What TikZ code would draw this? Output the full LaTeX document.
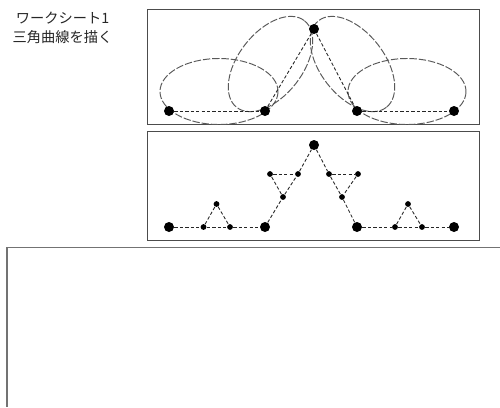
\documentclass[tikz,border=0pt]{standalone}
\usepackage{fontspec}
\setmainfont{Noto Sans CJK JP}
\usepackage{xcolor}
\usepackage{tikz}
\usetikzlibrary{positioning}

\begin{document}
\begin{tikzpicture}[
  x=0.2mm,y=-0.2mm,
  every node/.style={align=center},
  title/.style={font=\fontsize{8.1}{10.8}\selectfont,text=black!85,inner sep=0pt},
  panel/.style={rectangle,draw=black!70,line width=0.45pt,inner sep=0pt,
                minimum width=66.4mm},
  bigdot/.style={circle,fill=black,inner sep=0pt,minimum size=2mm},
  smalldot/.style={circle,fill=black,inner sep=0pt,minimum size=1.15mm},
  edge/.style={black!85,line width=0.5pt,dash pattern=on 1.9pt off 1.2pt},
  lobe/.style={black!65,line width=0.55pt,dash pattern=on 4.2pt off 1.1pt},
  sheet/.style={black!55,line width=0.85pt},
]
\clip (0,0) rectangle (500,407);

\node[title] at (62.5,27.5) (title) {ワークシート1\\三角曲線を描く};

% upper panel
\node[panel,minimum height=22.9mm] at (313,66.75) (upper) {};
\node[panel,minimum height=21.8mm] at (313,185.5) (lower) {};

\coordinate (lobeA) at (219,91.5);
\coordinate (lobeB) at (270.5,64);
\coordinate (lobeC) at (352.5,64);
\coordinate (lobeD) at (407,91.5);
\draw[lobe] (lobeA) ellipse [x radius=59,y radius=33];
\draw[lobe,rotate around={52:(lobeB)}] (lobeB) ellipse [x radius=55,y radius=32];
\draw[lobe,rotate around={-52:(lobeC)}] (lobeC) ellipse [x radius=55,y radius=32];
\draw[lobe] (lobeD) ellipse [x radius=59,y radius=33];

\node[bigdot] at (169,111) (upA) {};
\node[bigdot] at (265,111) (upB) {};
\node[bigdot] at (314,29)  (upC) {};
\node[bigdot] at (357,111) (upD) {};
\node[bigdot] at (454,111) (upE) {};

\draw[edge] (upA) -- (upB);
\draw[edge] (upB) -- (upC);
\draw[edge] (upC) -- (upD);
\draw[edge] (upD) -- (upE);

% lower panel
\node[bigdot] at (169,227) (loA) {};
\node[bigdot] at (265,227) (loB) {};
\node[bigdot] at (314,145) (loC) {};
\node[bigdot] at (357,227) (loD) {};
\node[bigdot] at (454,227) (loE) {};

\node[smalldot] at (203.5,227) (abL) {};
\node[smalldot] at (230,227)   (abR) {};
\node[smalldot] at (216.5,204) (abT) {};
\node[smalldot] at (283,197)   (bcL) {};
\node[smalldot] at (298,174)   (bcR) {};
\node[smalldot] at (270,174)   (bcT) {};
\node[smalldot] at (329,174)   (cdL) {};
\node[smalldot] at (342,197)   (cdR) {};
\node[smalldot] at (358,174)   (cdT) {};
\node[smalldot] at (395,227)   (deL) {};
\node[smalldot] at (422,227)   (deR) {};
\node[smalldot] at (408,204)   (deT) {};

\draw[edge] (loA) -- (abL);
\draw[edge] (abL) -- (abR);
\draw[edge] (abR) -- (loB);
\draw[edge] (abL) -- (abT);
\draw[edge] (abT) -- (abR);

\draw[edge] (loB) -- (bcL);
\draw[edge] (bcL) -- (bcR);
\draw[edge] (bcR) -- (loC);
\draw[edge] (bcL) -- (bcT);
\draw[edge] (bcT) -- (bcR);

\draw[edge] (loC) -- (cdL);
\draw[edge] (cdL) -- (cdR);
\draw[edge] (cdR) -- (loD);
\draw[edge] (cdL) -- (cdT);
\draw[edge] (cdT) -- (cdR);

\draw[edge] (loD) -- (deL);
\draw[edge] (deL) -- (deR);
\draw[edge] (deR) -- (loE);
\draw[edge] (deL) -- (deT);
\draw[edge] (deT) -- (deR);

% answer sheet
\draw[sheet] (500,247.5) -- (7,247.5) -- (7,407);
\end{tikzpicture}
\end{document}
